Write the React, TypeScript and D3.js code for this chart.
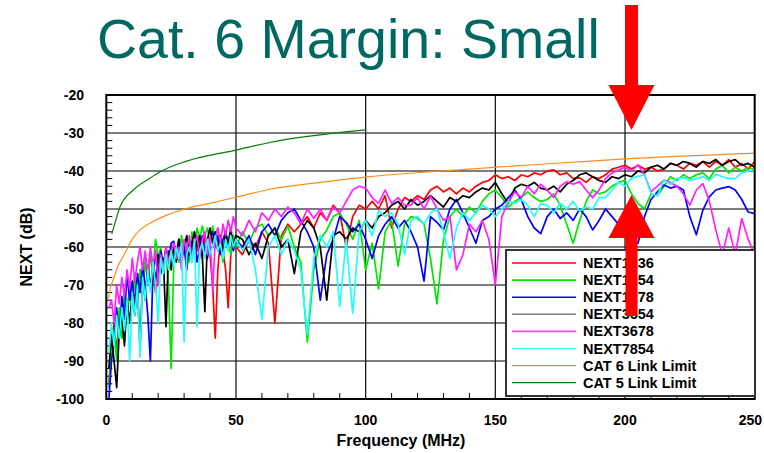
import React from "react";
import * as d3 from "d3";

// Frequency grid (MHz) shared by all measured NEXT traces
const FREQ = [
  1, 2, 3, 4, 5, 6, 7, 8, 9, 10, 11, 12, 13, 14, 15, 16, 17, 18, 19, 20,
  21, 22, 23, 24, 25, 26, 27, 28, 29, 30, 31, 32, 33, 34, 35, 36, 37, 38, 39, 40,
  41, 42, 43, 44, 45, 46, 47, 48, 49, 50,
  52.5, 55, 57.5, 60, 62.5, 65, 67.5, 70, 72.5, 75, 77.5, 80, 82.5, 85, 87.5, 90, 92.5, 95, 97.5, 100,
  102.5, 105, 107.5, 110, 112.5, 115, 117.5, 120, 122.5, 125, 127.5, 130, 132.5, 135, 137.5, 140, 142.5, 145, 147.5, 150,
  152.5, 155, 157.5, 160, 162.5, 165, 167.5, 170, 172.5, 175, 177.5, 180, 182.5, 185, 187.5, 190, 192.5, 195, 197.5, 200,
  202.5, 205, 207.5, 210, 212.5, 215, 217.5, 220, 222.5, 225, 227.5, 230, 232.5, 235, 237.5, 240, 242.5, 245, 247.5, 250,
];

const NEXT1236 = [
  -96, -86, -80, -88, -77, -84, -72, -79, -70, -75, -67, -73, -66, -70, -64, -69, -62, -66, -72, -68,
  -61, -65, -62, -66, -60, -64, -61, -58, -63, -59, -62, -58, -60, -57, -61, -58, -63, -57, -60, -62,
  -70, -84, -66, -58, -61, -66, -76, -62, -57, -60,
  -62, -58, -60, -56, -59, -80, -57, -54, -56, -54, -52, -55, -51, -53, -49, -51, -60, -52, -49, -50,
  -48, -50, -46.5, -55, -50, -47, -48, -46.5, -47.5, -45, -44, -45.5, -44.5, -46, -44.5, -45.5, -44, -43, -42.5, -41,
  -42, -41.5, -42.5, -41, -41.5, -40.5, -41, -40, -39.7, -41, -40.5, -42, -41.8, -43, -41.5, -42, -41, -39.5, -39, -38.5,
  -39.5, -38.5, -39.5, -39, -40, -39.5, -38, -38.5, -39.5, -38, -38.5, -37.5, -39, -37.5, -38.5, -37, -39, -38, -39.5, -37.5,
];

const NEXT1254 = [
  -97, -88, -82, -90, -76, -84, -72, -79, -70, -76, -68, -74, -66, -71, -63, -69, -61, -66, -58, -63,
  -60, -66, -62, -70, -92, -64, -60, -64, -57, -62, -58, -64, -56, -60, -55, -58, -54.5, -57, -55, -59,
  -54.5, -58, -55, -60, -64, -57, -59, -62, -57, -60,
  -56, -59, -55, -54, -57, -55, -58, -54.5, -60, -64, -85, -66, -58, -55.5, -52, -51, -54, -58, -53, -66,
  -59, -71, -56, -53, -65, -54, -52, -52.5, -54, -63, -75, -58, -52, -50, -52, -49.5, -51, -48, -46, -45,
  -47, -49.5, -48, -47, -45.5, -47, -48, -47.5, -46, -49, -54, -59, -53, -48, -45, -46, -45.5, -44, -43, -42.5,
  -46, -48.5, -50, -46, -46.5, -44, -41.5, -42.5, -41, -42, -41, -40.5, -42, -39.5, -38.5, -40.5, -39, -40, -39, -39.7,
];

const NEXT1278 = [
  -100, -90, -85, -76, -84, -73, -79, -67, -74, -69, -75, -67, -72, -65, -70, -78, -90, -66, -62, -68,
  -61, -65, -60, -64, -59, -58.5, -62, -58, -63, -60, -66, -59, -62, -58, -64, -60, -57, -61, -63, -58,
  -56, -60, -57, -62, -58, -56, -60, -57, -61, -58,
  -60, -57, -62, -56, -54, -57, -53, -51, -50, -53, -56, -60, -74, -62, -58, -52, -53.5, -56, -54, -58,
  -63, -57, -54, -52, -55, -53, -56, -60, -69, -52, -53.5, -55.5, -50, -47.5, -51, -55, -59, -53, -52, -50,
  -49, -47, -45, -47.5, -52, -55, -56.5, -52, -50, -52.5, -51, -53, -50, -52, -55.5, -53, -50, -52, -54, -56,
  -57, -59, -52, -47.5, -45.5, -43.7, -44.5, -44, -45, -52, -56.8, -50.3, -46.8, -45, -44.5, -44.1, -45, -47.5, -50.8, -51.2,
];

const NEXT3654 = [
  -92, -83, -90, -97, -82, -78, -86, -74, -80, -72, -78, -70, -87, -68, -74, -65, -71, -64, -69, -62,
  -67, -63, -81, -61, -66, -60, -64, -58, -63, -60, -57, -62, -59, -56, -60, -57, -62, -77, -58, -55,
  -59, -56, -61, -57, -62, -56, -59, -55, -60, -57,
  -58, -62, -59, -63, -57, -55, -60, -58, -67, -56, -53, -55, -60, -74, -57, -56, -58, -55, -56, -53,
  -55, -52, -51, -49, -48, -50, -47.5, -49, -48, -46.5, -48, -49.5, -47, -48, -46.5, -47, -45.5, -44.5, -45, -43,
  -46, -48.5, -44.5, -43.5, -44, -43, -44.5, -45, -44, -45.5, -43.5, -42.5, -41, -40.5, -41.5, -42.5, -43, -41.5, -42, -41,
  -41.5, -40, -40.5, -39, -38.5, -39.5, -38, -38.5, -37.5, -38, -39, -37.5, -38, -37, -38.5, -37.5, -37, -38.5, -38, -39,
];

const NEXT3678 = [
  -76, -74, -80, -70, -75, -68, -73, -66, -71, -63, -69, -64, -60, -66, -61, -67, -60, -65, -61, -70,
  -62, -66, -60, -64, -61, -59, -63, -60, -66, -58, -61, -57, -64, -59, -57, -63, -58, -56, -62, -57,
  -72, -58, -55, -59, -54, -57, -53, -56, -52, -55,
  -57, -53, -56, -51, -53, -50, -52, -49.5, -51, -54, -50, -52.5, -50, -53, -49.5, -51, -48, -45, -44, -44.5,
  -47, -48.5, -45, -48.5, -47, -49, -48.9, -47, -50, -46.6, -50, -53, -52, -66, -62, -54, -56, -53, -58, -70,
  -52, -48, -45.5, -47, -44, -46, -43.5, -45, -47, -44, -42.8, -43.5, -42.8, -45, -47, -45, -42, -40.5, -39.7, -39,
  -40, -38.4, -41, -45.5, -44, -42.4, -43, -44, -46, -49, -45, -43.3, -47.9, -55.5, -62, -55, -62, -52.5, -58, -62,
];

const NEXT7854 = [
  -88, -80, -86, -78, -84, -76, -82, -74, -90, -72, -78, -70, -89, -68, -74, -66, -72, -64, -70, -80,
  -63, -67, -62, -66, -61, -65, -60, -63, -59, -85, -62, -60, -64, -58, -81, -61, -59, -63, -58, -62,
  -60, -57, -61, -59, -63, -58, -61, -57, -60, -58,
  -61, -58, -66, -79, -60, -57, -62, -58, -61, -66, -83, -63, -57, -60, -56, -75.7, -58, -77.5, -56, -53,
  -57, -50.5, -52, -51, -54, -62, -53, -52, -54, -51, -50, -56, -63, -55, -51, -53, -51, -49, -50, -52,
  -50, -48, -48.5, -47.5, -49, -52, -48.6, -49, -51, -48.5, -50, -48, -50.5, -49.4, -50, -47, -47, -45, -43, -44,
  -42, -41.4, -41, -46, -46.5, -42.4, -43.5, -42, -41.7, -42.5, -42, -41.5, -42.5, -40.9, -41.5, -42, -42, -40.5, -40, -39.7,
];

// Link limit lines
const CAT6_FREQ = [0.8, 1.5, 2.7, 4.5, 6.5, 10, 13, 17, 23.3, 30.3, 40, 50, 63, 80, 100, 121, 150, 175, 200, 225, 250];
const CAT6_LIMIT = [-73.5, -71, -68.5, -65, -62.5, -58, -55.5, -53.7, -51.6, -50, -48.5, -46.9, -44.8, -43.2, -41.6, -40.4, -39, -37.9, -36.8, -36, -35.3];
const CAT5_FREQ = [2.1, 3.3, 5.3, 10.4, 16.8, 21.3, 31, 50, 63, 100];
const CAT5_LIMIT = [-56.6, -53.8, -49.4, -45, -41.9, -40, -37.4, -34.5, -32.5, -29.2];

const SERIES_NAMES = ["NEXT1236", "NEXT1254", "NEXT1278", "NEXT3654", "NEXT3678", "NEXT7854", "CAT 6 Link Limit", "CAT 5 Link Limit"];
const LINE_COLORS = ["#ff0000", "#00e600", "#0000ff", "#000000", "#ff22ff", "#22ffff", "#ff8c1a", "#008000"];
const LEGEND_COLORS = ["#ff0000", "#00e600", "#0000ff", "#808080", "#ff44ff", "#44ffff", "#ff8c1a", "#008000"];

const X_TICKS = [0, 50, 100, 150, 200, 250];
const Y_TICKS = [-20, -30, -40, -50, -60, -70, -80, -90, -100];

// Margin arrows around 200 MHz
const ARROW_FREQ = 202.5;
const DOWN_TIP_DB = -29.2;
const UP_TIP_DB = -46.3;

const FONT = "'Liberation Sans', Arial, Helvetica, sans-serif";

export default function App() {
  const W = 764;
  const H = 453;
  const x = d3.scaleLinear().domain([0, 250]).range([106.3, 754.7]);
  const y = d3.scaleLinear().domain([-100, -20]).range([399, 95]);
  const [px0, px1] = x.range();
  const [py1, py0] = y.range();

  const line = d3
    .line<[number, number]>()
    .x((d) => x(d[0]))
    .y((d) => y(d[1]));
  const smooth = d3
    .line<[number, number]>()
    .x((d) => x(d[0]))
    .y((d) => y(d[1]))
    .curve(d3.curveMonotoneX);

  const traces = [NEXT1236, NEXT1254, NEXT1278, NEXT3654, NEXT3678, NEXT7854];
  const pairs = (fs: number[], vs: number[]) => fs.map((f, i) => [f, vs[i]] as [number, number]);

  const xMinor = d3.range(0, 250, 10).filter((v) => v % 50 !== 0);
  const yMinor = d3.range(-98, -20, 2).filter((v) => v % 10 !== 0);

  // legend geometry
  const lg = { x: 506, y: 250, w: 249, h: 146 };
  const rowY = (i: number) => lg.y + 13 + i * 17.1;

  const ax = x(ARROW_FREQ);
  const downTip = y(DOWN_TIP_DB);
  const upTip = y(UP_TIP_DB);

  return (
    <svg
      width={W}
      height={H}
      viewBox={`0 0 ${W} ${H}`}
      style={{ position: "absolute", left: 0, top: 0, background: "#fff" }}
      fontFamily={FONT}
    >
      <rect x={0} y={0} width={W} height={H} fill="#fff" />
      <text x={97} y={58} fontSize={55.5} fill="#006863" fontFamily={FONT}>
        Cat. 6 Margin: Small
      </text>

      <defs>
        <clipPath id="plotClip">
          <rect x={px0} y={py0} width={px1 - px0} height={py1 - py0} />
        </clipPath>
      </defs>

      {/* grid */}
      {Y_TICKS.filter((v) => v > -100 && v < -20).map((v) => (
        <line key={"gy" + v} x1={px0} x2={px1} y1={y(v)} y2={y(v)} stroke="#505050" strokeWidth={1.6} />
      ))}
      {X_TICKS.filter((v) => v > 0 && v < 250).map((v) => (
        <line key={"gx" + v} x1={x(v)} x2={x(v)} y1={py0} y2={py1} stroke="#1a1a1a" strokeWidth={1.3} />
      ))}

      {/* minor ticks */}
      {yMinor.map((v) => (
        <line key={"ym" + v} x1={px0} x2={px0 + 6} y1={y(v)} y2={y(v)} stroke="#000" strokeWidth={1} />
      ))}
      {xMinor.map((v) => (
        <line key={"xm" + v} x1={x(v)} x2={x(v)} y1={py1} y2={py1 - 6} stroke="#000" strokeWidth={1} />
      ))}

      {/* measured traces and limits */}
      <g clipPath="url(#plotClip)" fill="none" strokeLinejoin="round">
        {traces.map((vals, i) => (
          <path key={SERIES_NAMES[i]} d={line(pairs(FREQ, vals)) || ""} stroke={LINE_COLORS[i]} strokeWidth={1.7} />
        ))}
        <path d={smooth(pairs(CAT6_FREQ, CAT6_LIMIT)) || ""} stroke={LINE_COLORS[6]} strokeWidth={1.2} />
        <path d={smooth(pairs(CAT5_FREQ, CAT5_LIMIT)) || ""} stroke={LINE_COLORS[7]} strokeWidth={1.2} />
      </g>

      {/* frame */}
      <rect x={px0} y={py0} width={px1 - px0} height={py1 - py0} fill="none" stroke="#000" strokeWidth={2} />

      {/* axis labels */}
      {Y_TICKS.map((v) => (
        <text key={"yl" + v} x={84} y={y(v) + 5} textAnchor="end" fontSize={14} fontWeight="bold">
          {v}
        </text>
      ))}
      {X_TICKS.map((v, i) => {
        const last = i === X_TICKS.length - 1;
        return (
          <text
            key={"xl" + v}
            x={last ? 762 : x(v)}
            y={425}
            textAnchor={last ? "end" : "middle"}
            fontSize={14}
            fontWeight="bold"
          >
            {v}
          </text>
        );
      })}
      <text x={401} y={446} textAnchor="middle" fontSize={16} fontWeight="bold">
        Frequency (MHz)
      </text>
      <text transform={`translate(32,${(py0 + py1) / 2}) rotate(-90)`} textAnchor="middle" fontSize={16} fontWeight="bold">
        NEXT (dB)
      </text>

      {/* legend */}
      <rect x={lg.x} y={lg.y} width={lg.w} height={lg.h} fill="#fff" stroke="#333" strokeWidth={2} />
      {SERIES_NAMES.map((name, i) => (
        <g key={"lg" + name}>
          <line x1={lg.x + 6} x2={lg.x + 70} y1={rowY(i)} y2={rowY(i)} stroke={LEGEND_COLORS[i]} strokeWidth={i >= 6 ? 1.2 : 1.6} />
          <text x={lg.x + 77} y={rowY(i) + 5} fontSize={14.5} fontWeight="bold">
            {name}
          </text>
        </g>
      ))}

      {/* margin arrows */}
      <g fill="#ff0000">
        <rect x={ax - 6.5} y={5} width={13} height={downTip - 44 - 5} />
        <polygon points={`${ax - 23},${downTip - 45} ${ax + 23},${downTip - 45} ${ax},${downTip}`} />
        <polygon points={`${ax - 23},${upTip + 43} ${ax + 23},${upTip + 43} ${ax},${upTip}`} />
        <rect x={ax - 6} y={upTip + 42} width={12} height={316 - upTip - 42} />
      </g>
    </svg>
  );
}
